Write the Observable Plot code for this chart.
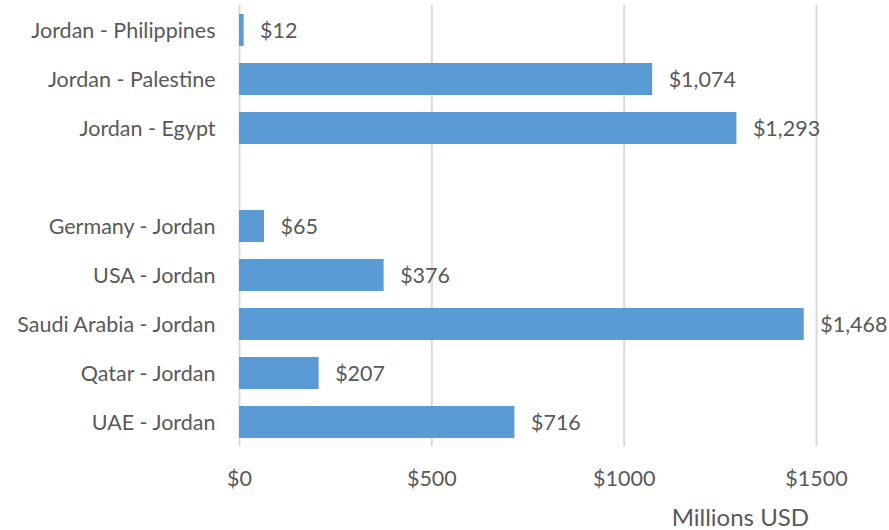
<!DOCTYPE html>
<html>
<head>
<meta charset="utf-8">
<script src="https://cdn.jsdelivr.net/npm/d3@7"></script>
<script src="https://cdn.jsdelivr.net/npm/@observablehq/plot@0.6"></script>
<style>
  html, body { margin: 0; padding: 0; background: #fff; }
</style>
</head>
<body>
<div id="chart"></div>
<script>
const categories = ["Jordan - Philippines", "Jordan - Palestine", "Jordan - Egypt", " ", "Germany - Jordan", "USA - Jordan", "Saudi Arabia - Jordan", "Qatar - Jordan", "UAE - Jordan"];
const values = [12, 1074, 1293, null, 65, 376, 1468, 207, 716];
const xTicks = [0, 500, 1000, 1500];
const axisTitle = "Millions USD";

const data = categories.map((c, i) => ({name: c, value: values[i]})).filter(d => d.value != null);
const fmt = d3.format(",");
const font = "Lato, 'Open Sans', sans-serif";

const chart = Plot.plot({
  width: 889,
  height: 530,
  marginLeft: 239,
  marginRight: 34.5,
  marginTop: 5,
  marginBottom: 84,
  style: {fontFamily: font, fontSize: "21.5px", color: "#595959", background: "#fff"},
  x: {domain: [0, 1600]},
  y: {domain: categories, paddingInner: 0.35, paddingOuter: 0.175},
  marks: [
    Plot.ruleX(xTicks, {stroke: "#d9d9d9", strokeWidth: 2, strokeOpacity: 1}),
    Plot.barX(data, {x: "value", y: "name", fill: "#5b9bd5"}),
    Plot.text(data, {x: "value", y: "name", text: d => "$" + fmt(d.value), textAnchor: "start", dx: 16, dy: 1, fill: "#595959", fontSize: 21.5}),
    Plot.axisY({tickSize: 0, tickPadding: 24, label: null, tickFormat: d => d.trim() === "" ? "" : d, fontSize: 21.5, dy: 1}),
    Plot.axisX(xTicks, {tickSize: 0, tickPadding: 24, label: null, tickFormat: d => "$" + d, fontSize: 21.5}),
    Plot.text([axisTitle], {frameAnchor: "bottom", x: 1302, dy: 79, text: d => d, fill: "#595959", fontSize: 24})
  ]
});
document.getElementById("chart").appendChild(chart);
</script>
</body>
</html>
